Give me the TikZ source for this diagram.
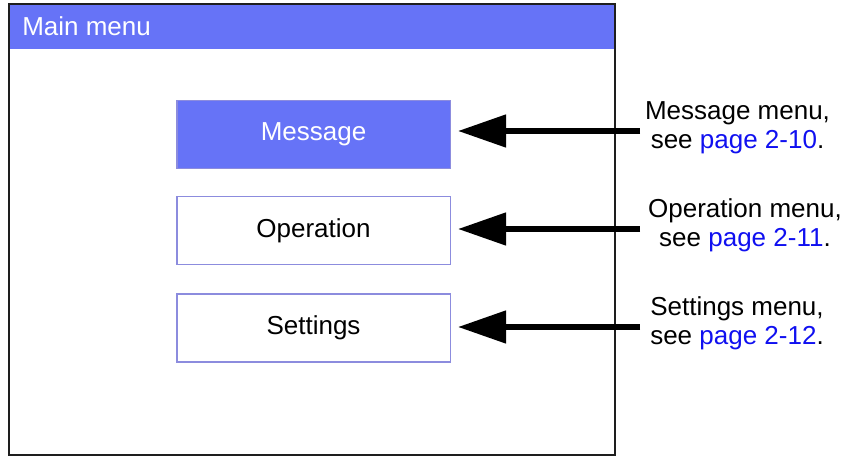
\documentclass[tikz,border=0pt]{standalone}
\usepackage{fontspec}
\setmainfont{Liberation Sans}
\usetikzlibrary{arrows.meta}
\definecolor{barblue}{RGB}{102,115,247}
\definecolor{boxline}{RGB}{140,140,222}
\definecolor{linkblue}{RGB}{16,16,240}
\definecolor{framec}{RGB}{30,30,30}
\tikzset{
  menubtn/.style={draw=boxline,line width=1pt,minimum width=205pt,minimum height=51pt,inner sep=0pt,font=\fontsize{19.5}{22}\selectfont},
  pointer/.style={line width=3.8pt,-{Triangle[length=36pt,width=24pt]}},
  note/.style={align=center,inner sep=0pt,font=\fontsize{19.5}{22}\selectfont}
}
\newcommand{\lnk}[1]{\textcolor{linkblue}{#1}}
\begin{document}
\begin{tikzpicture}[x=0.75pt,y=-0.75pt]
\useasboundingbox (0,0) rectangle (847,456);
% frame and title bar
\fill[barblue] (9,4) rectangle (615,49);
\node[anchor=base west,text=white,inner sep=0pt,font=\fontsize{19.5}{22}\selectfont] (title) at (22,36) {Main menu};
\draw[framec,line width=1.2pt] (9,4) rectangle (615,455);
% buttons
\node[menubtn,fill=barblue,text=white] (msg) at (313.5,134.5) {Message};
\node[menubtn,fill=white] (op) at (313.5,230.5) {Operation};
\node[menubtn,fill=white] (set) at (313.5,328) {Settings};
% notes
\node[note] (nmsg) at (737.5,128) {Message menu,\\see \lnk{page 2-10}.};
\node[note] (nop) at (745,225) {Operation menu,\\see \lnk{page 2-11}.};
\node[note] (nset) at (737,323) {Settings menu,\\see \lnk{page 2-12}.};
% arrows
\coordinate (amsg) at (640,131);
\coordinate (aop) at (640,229);
\coordinate (aset) at (640,327);
\draw[pointer] (amsg) -- ([xshift=5.5pt]msg.east |- amsg);
\draw[pointer] (aop) -- ([xshift=5.5pt]op.east |- aop);
\draw[pointer] (aset) -- ([xshift=5.5pt]set.east |- aset);
\end{tikzpicture}
\end{document}
